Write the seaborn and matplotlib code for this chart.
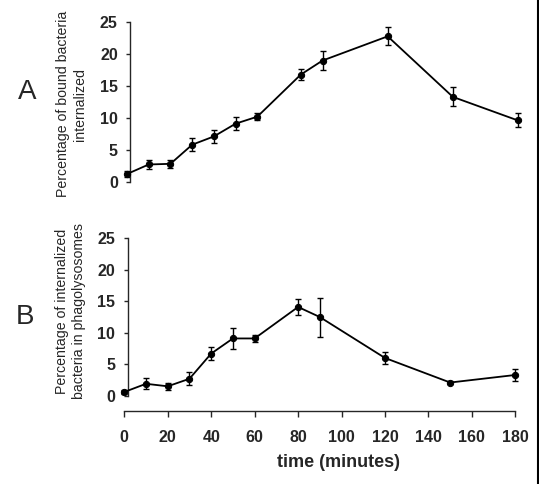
import numpy as np
import pandas as pd
import matplotlib
matplotlib.use("Agg")
import matplotlib.pyplot as plt
import seaborn as sns
from matplotlib.lines import Line2D

# data
time_min = [0, 10, 20, 30, 40, 50, 60, 80, 90, 120, 150, 180]
bound_internalized = [1.2, 2.7, 2.8, 5.8, 7.1, 9.1, 10.2, 16.8, 19.0, 22.8, 13.3, 9.6]
bound_err = [0.5, 0.7, 0.6, 1.0, 1.0, 1.0, 0.6, 0.9, 1.5, 1.4, 1.5, 1.1]
in_phagolysosomes = [0.6, 1.9, 1.5, 2.7, 6.7, 9.1, 9.1, 14.1, 12.5, 6.0, 2.1, 3.3]
phago_err = [0.3, 0.9, 0.6, 1.0, 1.0, 1.7, 0.6, 1.3, 3.1, 1.0, 0.2, 1.0]
y_ticks = [0, 5, 10, 15, 20, 25]
x_ticks = [0, 20, 40, 60, 80, 100, 120, 140, 160, 180]

sns.set_style("ticks")
plt.rcParams["font.family"] = ["Liberation Sans", "DejaVu Sans"]

fig = plt.figure(figsize=(5.39, 4.84), dpi=100)
ax_a = fig.add_axes([0.2195, 0.5917, 0.7577, 0.3622])
ax_b = fig.add_axes([0.2145, 0.1498, 0.7577, 0.3578])

panels = [
    (ax_a, bound_internalized, bound_err),
    (ax_b, in_phagolysosomes, phago_err),
]

for ax, vals, errs in panels:
    df = pd.DataFrame({"time": time_min, "value": vals})
    ax.errorbar(time_min, vals, yerr=errs, fmt="none", ecolor="black",
                elinewidth=1.0, capsize=2.2, capthick=1.0, zorder=2)
    sns.lineplot(data=df, x="time", y="value", ax=ax, color="black",
                 linewidth=1.3, marker="o", markersize=4.5,
                 markeredgecolor="black", zorder=3)
    ax.set_xlim(-4, 184)
    ax.set_ylim(-2.5, 25)
    ax.set_yticks(y_ticks)
    ax.set_xlabel("")
    ax.set_ylabel("")
    ax.spines["left"].set_bounds(0, 25)
    ax.spines["left"].set_position(("data", 1.5))
    ax.spines["left"].set_linewidth(1.0)
    ax.spines["right"].set_visible(False)
    ax.spines["top"].set_visible(False)
    ax.tick_params(axis="y", length=3, width=1.0, pad=6, labelsize=11.5)
    for lab in ax.get_yticklabels():
        lab.set_fontweight("bold")

ax_a.spines["bottom"].set_visible(False)
ax_a.set_xticks([])

ax_b.set_xticks(x_ticks)
ax_b.spines["bottom"].set_bounds(0, 180)
ax_b.spines["bottom"].set_linewidth(1.0)
ax_b.tick_params(axis="x", length=4, width=1.0, pad=9, labelsize=11.5)
for lab in ax_b.get_xticklabels():
    lab.set_fontweight("bold")
ax_b.set_xlabel("time (minutes)", fontsize=13, fontweight="bold")
ax_b.xaxis.set_label_coords(0.545, -0.245)

fig.text(0.133, 0.785, "Percentage of bound bacteria\ninternalized",
         rotation=90, ha="center", va="center", fontsize=10.2, linespacing=1.25)
fig.text(0.131, 0.357, "Percentage of internalized\nbacteria in phagolysosomes",
         rotation=90, ha="center", va="center", fontsize=10.2, linespacing=1.25)
fig.text(0.051, 0.81, "A", ha="center", va="center", fontsize=20)
fig.text(0.047, 0.345, "B", ha="center", va="center", fontsize=20)

# scanned page border on the right edge
fig.add_artist(Line2D([0.9975, 0.9975], [0, 1], transform=fig.transFigure,
                      color="black", linewidth=1.5))

fig.savefig("out.png", dpi=100)
